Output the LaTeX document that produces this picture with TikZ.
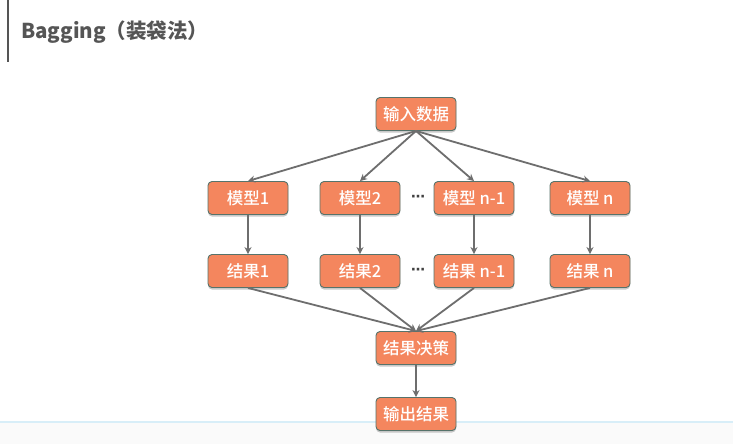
\documentclass[tikz,border=0pt]{standalone}
\usepackage{fontspec}
\setmainfont{Noto Sans CJK SC}
\newfontfamily\medfont{Noto Sans CJK SC Medium}
\newfontfamily\dotfont{DejaVu Sans}
\usetikzlibrary{arrows.meta,shadows}
\definecolor{boxfill}{HTML}{F4865E}
\definecolor{boxdraw}{HTML}{56736B}
\definecolor{edgecol}{HTML}{6E6E6E}
\definecolor{titlecol}{HTML}{555555}
\definecolor{linecol}{HTML}{D8EEF8}
\definecolor{bottombg}{HTML}{FAFAFA}
\tikzset{
  box/.style={draw=boxdraw, line width=0.9pt, fill=boxfill, rounded corners=4pt,
    minimum width=80pt, minimum height=33pt, inner sep=0pt, text=white,
    font=\medfont\fontsize{16.5}{19}\selectfont,
    drop shadow={shadow xshift=0pt, shadow yshift=-2pt, opacity=0.35, fill=black!60}},
  edge/.style={draw=edgecol, line width=1.8pt, -{Stealth[length=7pt,width=7pt]}},
  dots/.style={font=\dotfont\bfseries\fontsize{14}{16}\selectfont, text=black!75, inner sep=0pt}
}
\begin{document}
\begin{tikzpicture}[x=1pt,y=-1pt]
\useasboundingbox (0,0) rectangle (733,444);
\fill[white] (0,0) rectangle (733,444);
\fill[bottombg] (0,422) rectangle (733,444);
\draw[linecol, line width=1.5pt] (0,422) -- (733,422);
\draw[titlecol, line width=2pt] (8,0) -- (8,62);
\node[anchor=west, text=titlecol, font=\fontsize{20.5}{24}\selectfont\bfseries, inner sep=0pt] (title) at (21,32) {Bagging（装袋法）};

\node[box] (in) at (416,114) {输入数据};
\node[box] (m1) at (248,198) {模型1};
\node[box] (m2) at (360,198) {模型2};
\node[box] (m3) at (474,198) {模型 n-1};
\node[box] (m4) at (590,198) {模型 n};
\node[dots] (d1) at (418,198) {⋯};
\node[box] (r1) at (248,271) {结果1};
\node[box] (r2) at (360,271) {结果2};
\node[box] (r3) at (474,271) {结果 n-1};
\node[box] (r4) at (590,271) {结果 n};
\node[dots] (d2) at (418,271) {⋯};
\node[box] (dec) at (416,348) {结果决策};
\node[box] (out) at (416,414) {输出结果};

\foreach \m in {m1,m2,m3,m4} \draw[edge] (in.south) -- (\m.north);
\foreach \i in {1,2,3,4} \draw[edge] (m\i.south) -- (r\i.north);
\foreach \r in {r1,r2,r3,r4} \draw[edge] (\r.south) -- (dec.north);
\draw[edge] (dec.south) -- (out.north);
\end{tikzpicture}
\end{document}
